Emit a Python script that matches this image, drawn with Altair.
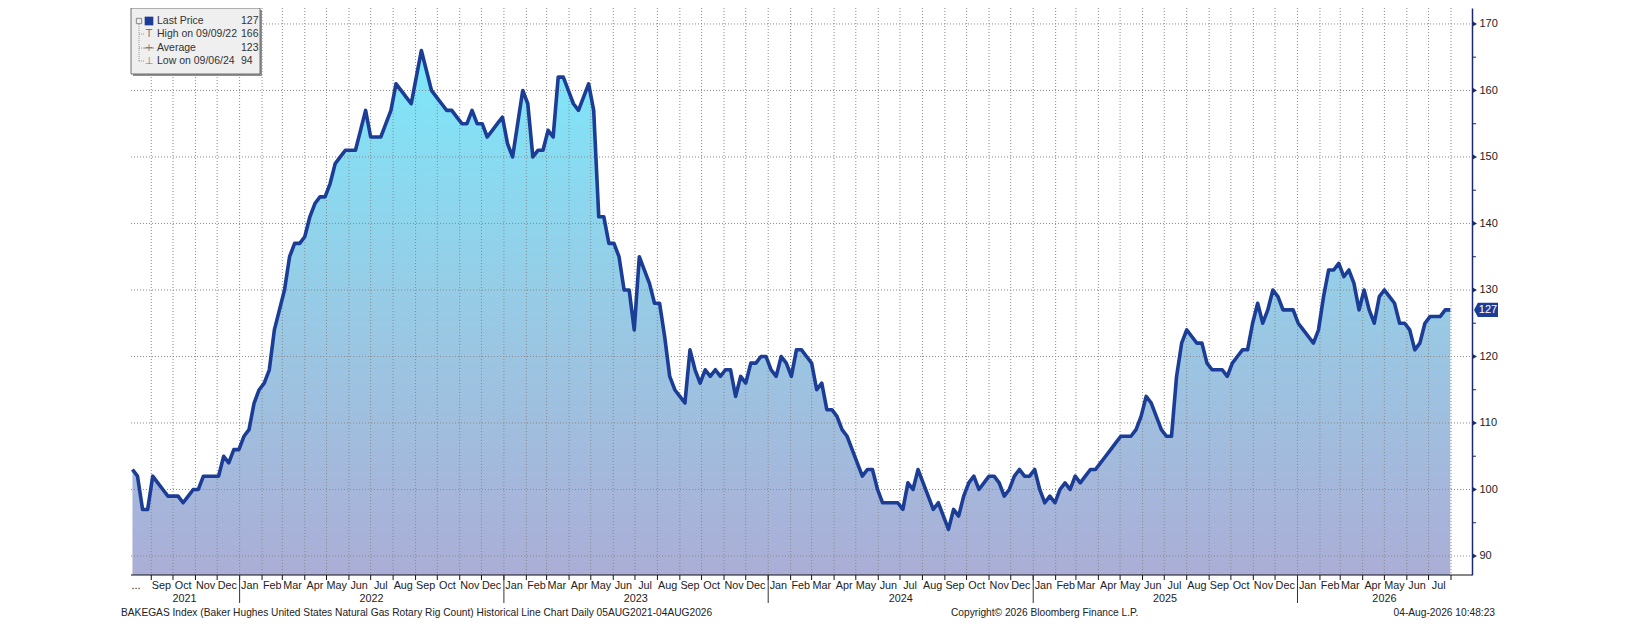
import altair as alt
import pandas as pd

# ---------------- data (weekly Baker Hughes gas rig count) -------------
rig_counts = [
    103, 102, 97, 97, 102, 101, 100, 99, 99, 99, 98, 99, 100, 100, 102, 102, 102, 102, 105, 104,
    106, 106, 108, 109, 113, 115, 116, 118, 124, 127, 130, 135, 137, 137, 138, 141, 143, 144, 144, 146,
    149, 150, 151, 151, 151, 154, 157, 153, 153, 153, 155, 157, 161, 160, 159, 158, 162, 166, 163, 160,
    159, 158, 157, 157, 156, 155, 155, 157, 155, 155, 153, 154, 155, 156, 152, 150, 155, 160, 158, 150,
    151, 151, 154, 153, 162, 162, 160, 158, 157, 159, 161, 157, 141, 141, 137, 137, 135, 130, 130, 124,
    135, 133, 131, 128, 128, 123, 117, 115, 114, 113, 121, 118, 116, 118, 117, 118, 117, 118, 118, 114,
    117, 116, 119, 119, 120, 120, 118, 117, 120, 119, 117, 121, 121, 120, 119, 115, 116, 112, 112, 111,
    109, 108, 106, 104, 102, 103, 103, 100, 98, 98, 98, 98, 97, 101, 100, 103, 101, 99, 97, 98,
    96, 94, 97, 96, 99, 101, 102, 100, 101, 102, 102, 101, 99, 100, 102, 103, 102, 102, 103, 100,
    98, 99, 98, 100, 101, 100, 102, 101, 102, 103, 103, 104, 105, 106, 107, 108, 108, 108, 109, 111,
    114, 113, 111, 109, 108, 108, 117, 122, 124, 123, 122, 122, 119, 118, 118, 118, 117, 119, 120, 121,
    121, 125, 128, 125, 127, 130, 129, 127, 127, 127, 125, 124, 123, 122, 124, 129, 133, 133, 134, 132,
    133, 131, 127, 130, 127, 125, 129, 130, 129, 128, 125, 125, 124, 121, 122, 125, 126, 126, 126, 127,
    127,
]
first_week = "2021-08-06"
week_dates = pd.date_range(first_week, periods=len(rig_counts), freq="7D")

y_ticks = [90, 100, 110, 120, 130, 140, 150, 160, 170]
y_minor = [95, 105, 115, 125, 135, 145, 155, 165]
y_domain = [87.14, 172.4]
last_price = [127]

month_starts = pd.date_range("2021-09-01", "2026-08-01", freq="MS")
month_label_dates = ["2021-08-11"] + [d + pd.Timedelta(days=14) for d in pd.date_range("2021-09-01", "2026-07-01", freq="MS")]
month_label_text = ["..."] + [d.strftime("%b") for d in pd.date_range("2021-09-01", "2026-07-01", freq="MS")]

year_starts = ["2022-01-01", "2023-01-01", "2024-01-01", "2025-01-01", "2026-01-01"]
year_labels = ["2021", "2022", "2023", "2024", "2025", "2026"]
year_label_dates = ["2021-10-17", "2022-07-02", "2023-07-02", "2024-07-02", "2025-07-02", "2026-05-01"]

legend_names = ["Last Price", "High on 09/09/22", "Average", "Low on 09/06/24"]
legend_values = ["127", "166", "123", "94"]

footer_left = "BAKEGAS Index (Baker Hughes United States Natural Gas Rotary Rig Count) Historical Line Chart Daily 05AUG2021-04AUG2026"
footer_mid = "Copyright\u00a9 2026 Bloomberg Finance L.P."
footer_right = "04-Aug-2026 10:48:23"

# ---------------- layout / style ----------------
W, H = 1341, 567
FONT = "Liberation Sans"
NAVY = "#1B3D96"
AXIS_NAVY = "#1a2a6c"
GRID = "#8a8a8a"

x_scale = alt.Scale(domain=[alt.DateTime(year=2021, month=8, date=4),
                            alt.DateTime(year=2026, month=8, date=30)])
y_scale = alt.Scale(domain=y_domain, nice=False, zero=False)
y_axis = alt.Axis(orient="right", values=y_ticks, ticks=False, tickSize=0, grid=False,
                  domainColor=AXIS_NAVY, domainWidth=1.5, labelFont=FONT, labelFontSize=11,
                  labelColor="#222222", labelPadding=7, title=None, format="d")


def X(field):
    return alt.X(field, scale=x_scale, axis=None, title=None)


def Y(field):
    return alt.Y(field, scale=y_scale, axis=y_axis, title=None, stack=None)


df = pd.DataFrame({"date": week_dates, "rigs": rig_counts})
one = pd.DataFrame({"k": [0]})

area = alt.Chart(df).mark_area(
    color=alt.Gradient(
        gradient="linear",
        stops=[alt.GradientStop(color="#7DE8FA", offset=0),
               alt.GradientStop(color="#97CBE5", offset=0.48),
               alt.GradientStop(color="#ABAED6", offset=1)],
        x1=1, x2=1, y1=0, y2=1),
).encode(x=X("date:T"), y=Y("rigs:Q"), y2=alt.datum(y_domain[0]))

hgrid = alt.Chart(pd.DataFrame({"v": y_ticks})).mark_rule(
    color=GRID, strokeDash=[1, 2], strokeWidth=1
).encode(y=Y("v:Q"), x=alt.value(0), x2=alt.value(W))

vgrid = alt.Chart(pd.DataFrame({"date": month_starts})).mark_rule(
    color=GRID, strokeDash=[1, 2], strokeWidth=1
).encode(x=X("date:T"), y=alt.value(0), y2=alt.value(H))

line = alt.Chart(df).mark_line(color=NAVY, strokeWidth=3.6, strokeJoin="round").encode(
    x=X("date:T"), y=Y("rigs:Q"))

# bottom axis
x_domain = alt.Chart(one).mark_rule(color="#111111", strokeWidth=1).encode(
    x=alt.value(0), x2=alt.value(W), y=alt.value(H))
month_ticks = alt.Chart(pd.DataFrame({"date": month_starts})).mark_rule(color="#111111").encode(
    x=X("date:T"), y=alt.value(H), y2=alt.value(H + 5))
year_ticks = alt.Chart(pd.DataFrame({"date": pd.to_datetime(year_starts)})).mark_rule(color="#333333").encode(
    x=X("date:T"), y=alt.value(H), y2=alt.value(H + 28))
month_text = alt.Chart(pd.DataFrame({"date": pd.to_datetime(month_label_dates), "label": month_label_text})).mark_text(
    font=FONT, fontSize=10.8, color="#222222", baseline="middle", align="center"
).encode(x=X("date:T"), y=alt.value(H + 11), text="label:N")
year_text = alt.Chart(pd.DataFrame({"date": pd.to_datetime(year_label_dates), "label": year_labels})).mark_text(
    font=FONT, fontSize=10.8, color="#222222", baseline="middle", align="center"
).encode(x=X("date:T"), y=alt.value(H + 24), text="label:N")

# footers
foot_l = alt.Chart(one).mark_text(font=FONT, fontSize=10.2, color="#222222", align="left", baseline="middle",
                                  text=footer_left).encode(x=alt.value(-10), y=alt.value(H + 38))
foot_m = alt.Chart(one).mark_text(font=FONT, fontSize=10.2, color="#222222", align="left", baseline="middle",
                                  text=footer_mid).encode(x=alt.value(820), y=alt.value(H + 38))
foot_r = alt.Chart(one).mark_text(font=FONT, fontSize=10.2, color="#222222", align="right", baseline="middle",
                                  text=footer_right).encode(x=alt.value(W + 23), y=alt.value(H + 38))

# right axis decorations
tri = alt.Chart(pd.DataFrame({"v": y_ticks})).mark_point(
    shape="triangle-right", filled=True, size=22, color=AXIS_NAVY, opacity=1
).encode(y=Y("v:Q"), x=alt.value(W + 3))
minor = alt.Chart(pd.DataFrame({"v": y_minor})).mark_rule(color=AXIS_NAVY, strokeWidth=1).encode(
    y=Y("v:Q"), x=alt.value(W), x2=alt.value(W + 4))
tag = alt.Chart(pd.DataFrame({"v": last_price})).mark_point(
    shape="M-1,0L-0.68,-0.6L1,-0.6L1,0.6L-0.68,0.6Z", filled=True, size=576, color=NAVY, opacity=1
).encode(y=Y("v:Q"), x=alt.value(W + 14))
tag_text = alt.Chart(pd.DataFrame({"v": last_price})).mark_text(
    font=FONT, fontSize=11, color="white", align="center", baseline="middle"
).encode(y=Y("v:Q"), x=alt.value(W + 16), text="v:Q")

# legend box
leg_shadow = alt.Chart(one).mark_rect(fill="#8f8f8f").encode(
    x=alt.value(2), x2=alt.value(131), y=alt.value(2), y2=alt.value(68))
leg_box = alt.Chart(one).mark_rect(fill="#EFEFEF", stroke="#6f6f6f", strokeWidth=1).encode(
    x=alt.value(0), x2=alt.value(129), y=alt.value(0), y2=alt.value(66))
row_y = [13, 26, 40, 53]
leg_layers = [leg_shadow, leg_box]
leg_layers.append(alt.Chart(one).mark_rule(color="#999999", strokeDash=[1, 1]).encode(
    x=alt.value(8), y=alt.value(row_y[0] + 3), y2=alt.value(row_y[3])))
for ry in row_y[1:]:
    leg_layers.append(alt.Chart(one).mark_rule(color="#999999", strokeDash=[1, 1]).encode(
        x=alt.value(8), x2=alt.value(13), y=alt.value(ry)))
leg_layers.append(alt.Chart(one).mark_point(shape="square", filled=False, size=28, color="#888888",
                                            opacity=1, strokeWidth=1).encode(x=alt.value(8), y=alt.value(row_y[0])))
leg_layers.append(alt.Chart(one).mark_point(shape="square", filled=True, size=75, color=NAVY,
                                            opacity=1).encode(x=alt.value(18), y=alt.value(row_y[0])))
icons = ["", "T", "+", "\u22a5"]
for ry, ic in zip(row_y[1:], icons[1:]):
    leg_layers.append(alt.Chart(one).mark_text(font="DejaVu Sans", fontSize=10, color="#777777",
                                               align="center", baseline="middle", text=ic).encode(
        x=alt.value(18), y=alt.value(ry)))
leg_layers.append(alt.Chart(one).mark_rule(color="#888888").encode(
    x=alt.value(13), x2=alt.value(23), y=alt.value(row_y[2])))
for ry, name, val in zip(row_y, legend_names, legend_values):
    leg_layers.append(alt.Chart(one).mark_text(font=FONT, fontSize=10.5, color="#333333", align="left",
                                               baseline="middle", text=name).encode(
        x=alt.value(26), y=alt.value(ry)))
    leg_layers.append(alt.Chart(one).mark_text(font=FONT, fontSize=10.5, color="#333333", align="left",
                                               baseline="middle", text=val).encode(
        x=alt.value(110), y=alt.value(ry)))

chart = alt.layer(
    area, vgrid, hgrid, line, x_domain, month_ticks, year_ticks, month_text, year_text,
    foot_l, foot_m, foot_r, tri, minor, tag, tag_text, *leg_layers
).properties(
    width=W, height=H,
    padding={"left": 123, "top": 0, "right": 140, "bottom": 54},
    autosize=alt.AutoSizeParams(type="none"),
    background="white",
).configure_view(stroke=None)

chart.save("out.html", embed_options={"renderer": "svg", "actions": False})
